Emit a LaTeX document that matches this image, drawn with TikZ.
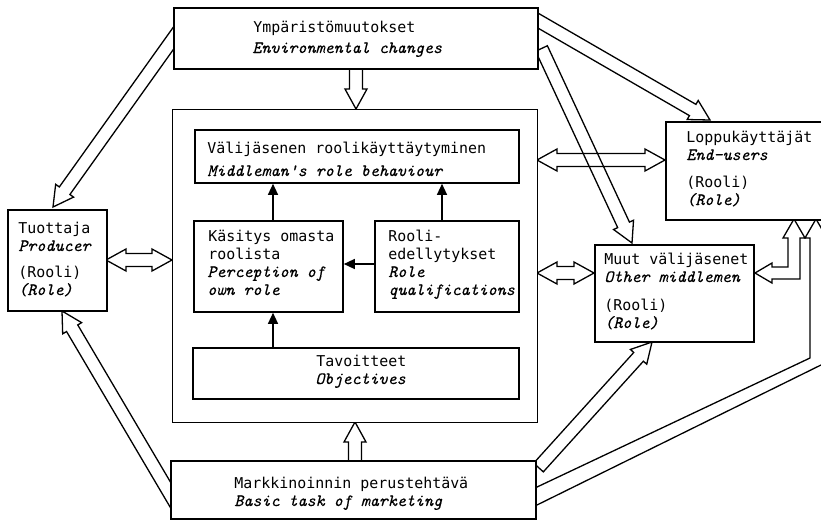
\documentclass[tikz,border=0pt]{standalone}
\usepackage{fontspec}
\usetikzlibrary{calc,arrows.meta}
\newfontfamily\upf{DejaVu Sans Mono}
\newfontfamily\itf{lmmono10-italic.otf}[AutoFakeBold=0.35]
\newcommand\U{\upf\fontsize{7.47}{9}\selectfont}
\newcommand\I{\itf\bfseries\fontsize{8.6}{9}\selectfont}
\newcommand\bsw{3.25pt}
\newcommand\bhw{5.5pt}
\newcommand\bhl{10pt}
\newcommand\sarrow[2]{%
  \path ($(#2)!\bhl!(#1)$) coordinate (ba-p);
  \draw[barr] ($(#1)!\bsw!90:(#2)$) -- ($(ba-p)!\bsw!90:(#2)$) -- ($(ba-p)!\bhw!90:(#2)$) -- (#2)
    -- ($(ba-p)!\bhw!-90:(#2)$) -- ($(ba-p)!\bsw!-90:(#2)$) -- ($(#1)!\bsw!-90:(#2)$) -- cycle;
}
\newcommand\darrow[2]{%
  \path ($(#2)!\bhl!(#1)$) coordinate (ba-p) ($(#1)!\bhl!(#2)$) coordinate (ba-q);
  \draw[barr] (#1) -- ($(ba-q)!\bhw!90:(#2)$) -- ($(ba-q)!\bsw!90:(#2)$) -- ($(ba-p)!\bsw!90:(#2)$)
    -- ($(ba-p)!\bhw!90:(#2)$) -- (#2) -- ($(ba-p)!\bhw!-90:(#2)$) -- ($(ba-p)!\bsw!-90:(#2)$)
    -- ($(ba-q)!\bsw!-90:(#2)$) -- ($(ba-q)!\bhw!-90:(#2)$) -- cycle;
}
\tikzset{
  box/.style={draw, line width=0.9pt, fill=white, inner sep=0pt, anchor=north west},
  outerbox/.style={draw, line width=0.7pt, fill=white, inner sep=0pt, anchor=north west},
  barr/.style={line width=0.65pt, line join=miter},
  iarr/.style={line width=0.65pt, -{Triangle[length=5.5pt,width=5pt]}},
  ut/.style={anchor=base west, inner sep=0pt, font=\U},
  it/.style={anchor=base west, inner sep=0pt, font=\I},
}
\begin{document}
\begin{tikzpicture}[x=0.5pt,y=-0.5pt]
\useasboundingbox (0,0) rectangle (821,521);
% arrow end points
\coordinate (a1t) at (356,62);   \coordinate (a1h) at (356,109);
\coordinate (a2t) at (355,466);  \coordinate (a2h) at (355,422);
\coordinate (a3t) at (185,22);   \coordinate (a3h) at (53,207);
\coordinate (a4t) at (180,511);  \coordinate (a4h) at (62,311);
\coordinate (a5t) at (526.6,14); \coordinate (a5h) at (710,120);
\coordinate (a6t) at (541.5,48.5); \coordinate (a6h) at (632,243);
\coordinate (a7t) at (538.5,467.5); \coordinate (a7h) at (652,342);
\coordinate (d1a) at (106,260);  \coordinate (d1b) at (172,260);
\coordinate (d2a) at (537,160);  \coordinate (d2b) at (665,160);
\coordinate (d3a) at (537,273);  \coordinate (d3b) at (594,273);
% hollow block arrows
\sarrow{a1t}{a1h}
\sarrow{a2t}{a2h}
\sarrow{a3t}{a3h}
\sarrow{a4t}{a4h}
\sarrow{a5t}{a5h}
\sarrow{a6t}{a6h}
\sarrow{a7t}{a7h}
\darrow{d1a}{d1b}
\darrow{d2a}{d2b}
\darrow{d3a}{d3b}
% L-shaped double arrow Muut <-> End-users
\draw[barr] (755,273) -- (772,263) -- (772,267) -- (788,267) -- (788,238) -- (783,238) -- (794,219)
  -- (805,238) -- (800,238) -- (800,279) -- (772,279) -- (772,283) -- cycle;
% bent arrow Markkinointi -> End-users
\draw[barr] (525,492.7) -- (810,358) -- (810,238) -- (805,238) -- (816,219) -- (827,238) -- (822,238)
  -- (822,364.5) -- (525,510.9) -- cycle;
% boxes
\node[box, minimum width=182pt, minimum height=30.5pt] (env) at (173,7) {};
\node[outerbox, minimum width=182.5pt, minimum height=156.5pt] (outer) at (172,109) {};
\node[box, minimum width=162pt, minimum height=26.5pt] (rb) at (194,129) {};
\node[box, minimum width=74.5pt, minimum height=45.5pt] (kas) at (193,220) {};
\node[box, minimum width=72pt, minimum height=45.5pt] (roo) at (374,220) {};
\node[box, minimum width=163pt, minimum height=25.5pt] (tav) at (192,347) {};
\node[box, minimum width=49.5pt, minimum height=50.5pt] (prod) at (7,209) {};
\node[box, minimum width=182.5pt, minimum height=29pt] (mark) at (170,460) {};
\node[box, minimum width=85pt, minimum height=49pt] (endu) at (665,121) {};
\node[box, minimum width=79.5pt, minimum height=48.5pt] (muut) at (594,244) {};
% texts
\node[ut] (env1) at (253,32) {Ympäristömuutokset};
\node[it] (env2) at (252,53) {Environmental changes};
\node[ut] (rb1) at (207,153) {Välijäsenen roolikäyttäytyminen};
\node[it] (rb2) at (207,176) {Middleman's role behaviour};
\node[ut] (kas1) at (208,241) {Käsitys omasta};
\node[ut] (kas2) at (208,259) {roolista};
\node[it] (kas3) at (207,277) {Perception of};
\node[it] (kas4) at (207,295) {own role};
\node[ut] (roo1) at (388,241) {Rooli-};
\node[ut] (roo2) at (388,259) {edellytykset};
\node[it] (roo3) at (388,277) {Role};
\node[it] (roo4) at (388,295) {qualifications};
\node[ut] (tav1) at (316,366) {Tavoitteet};
\node[it] (tav2) at (315,384) {Objectives};
\node[ut] (prod1) at (18,233) {Tuottaja};
\node[it] (prod2) at (18,251) {Producer};
\node[ut] (prod3) at (18,277) {(Rooli)};
\node[it] (prod4) at (18,295) {(Role)};
\node[ut] (mark1) at (234,488) {Markkinoinnin perustehtävä};
\node[it] (mark2) at (234,506) {Basic task of marketing};
\node[ut] (endu1) at (686,142) {Loppukäyttäjät};
\node[it] (endu2) at (686,160) {End-users};
\node[ut] (endu3) at (686,187) {(Rooli)};
\node[it] (endu4) at (686,205) {(Role)};
\node[ut] (muut1) at (604,264) {Muut välijäsenet};
\node[it] (muut2) at (604,282) {Other middlemen};
\node[ut] (muut3) at (604,310) {(Rooli)};
\node[it] (muut4) at (604,328) {(Role)};
% internal arrows
\coordinate (k1) at ([xshift=40pt]kas.north west);
\coordinate (t1) at ([xshift=40.5pt]tav.north west);
\coordinate (r1) at ([xshift=34pt]roo.north west);
\coordinate (r2) at ([yshift=-22pt]roo.north west);
\draw[iarr] (k1) -- (k1 |- rb.south);
\draw[iarr] (t1) -- (t1 |- kas.south);
\draw[iarr] (r1) -- (r1 |- rb.south);
\draw[iarr] (r2) -- (r2 -| kas.east);
\end{tikzpicture}
\end{document}
